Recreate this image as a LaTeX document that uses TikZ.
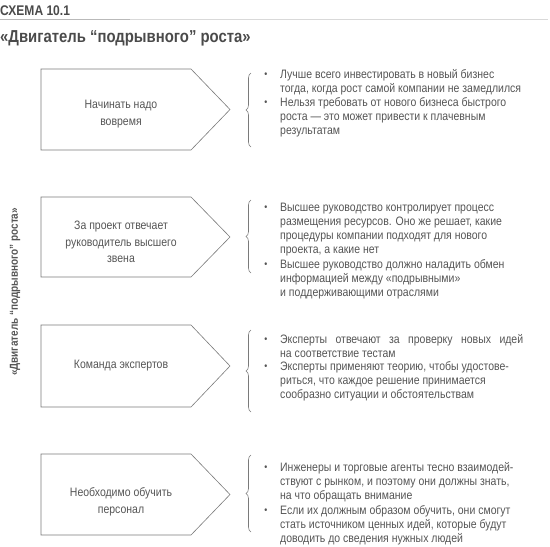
\documentclass[tikz,border=0pt]{standalone}
\usepackage{fontspec}
\setmainfont{Liberation Sans}[FakeStretch=0.86]
\usetikzlibrary{decorations.pathreplacing}
\definecolor{txt}{HTML}{555555}
\definecolor{ttl}{HTML}{4A4A4A}
\definecolor{lin}{HTML}{7A7A7A}
\tikzset{
  pent/.style={draw=lin, line width=0.6pt},
  boxtext/.style={text=txt, align=center, font=\fontsize{12.2}{16.5}\selectfont, inner sep=0pt},
  itemtext/.style={text=txt, anchor=north west, align=left, inner sep=0pt, font=\fontsize{12.2}{14}\selectfont},
  bul/.style={text=txt, inner sep=0pt, font=\fontsize{10}{14}\selectfont},
  brc/.style={draw=lin, line width=0.6pt, decorate, decoration={brace, amplitude=5pt, aspect=0.5}},
}
\newcommand{\mkbox}[5]{% name, top, bottom, text offset, text
  \path[pent] (41,#2) coordinate (#1nw) -- (191,#2) -- (230,{(#2+#3)/2}) coordinate (#1tip) -- (191,#3) -- (41,#3) -- cycle;
  \node[boxtext] (#1t) at (121,{(#2+#3)/2+#4}) {#5};
}
\begin{document}
\begin{tikzpicture}[x=1pt,y=-1pt]
\useasboundingbox (0,0) rectangle (550,547);
% header
\node[anchor=base west, inner sep=0pt, text=ttl, font=\fontsize{14}{16}\selectfont\bfseries] (schema) at (0,15) {СХЕМА 10.1};
\coordinate (l0) at (0,19.5);
\coordinate (l1) at (130,19.5);
\coordinate (l2) at (548,19.5);
\draw[gray!55, line width=1pt] (l0) -- (l1);
\draw[gray!30, line width=1pt] (l1) -- (l2);
\node[anchor=base west, inner sep=0pt, text=ttl, font=\fontsize{17.3}{20}\selectfont\bfseries] (title) at (0,42) {«Двигатель “подрывного” роста»};
% vertical label
\node[rotate=90, inner sep=0pt, text=txt, font=\fontsize{11.6}{13}\selectfont\bfseries] (side) at (15,292) {«Двигатель “подрывного” роста»};
% boxes
\mkbox{a}{69}{150}{4.5}{Начинать надо\\вовремя}
\mkbox{b}{197}{277}{5}{За проект отвечает\\руководитель высшего\\звена}
\mkbox{c}{325}{407}{0}{Команда экспертов}
\mkbox{d}{454}{535}{7.5}{Необходимо обучить\\персонал}
% braces
\coordinate (ab1) at (251,147); \coordinate (ab2) at (251,73);
\coordinate (bb1) at (251,273); \coordinate (bb2) at (251,200);
\coordinate (cb1) at (251,412); \coordinate (cb2) at (251,330);
\coordinate (db1) at (251,532); \coordinate (db2) at (251,455);
\draw[brc] (ab1) -- (ab2);
\draw[brc] (bb1) -- (bb2);
\draw[brc] (cb1) -- (cb2);
\draw[brc] (db1) -- (db2);
% items
\node[bul] (a1b) at (266,75) {•};
\node[itemtext] (a1) at (280,68) {\strut Лучше всего инвестировать в новый бизнес\\тогда, когда рост самой компании не замедлился};
\node[bul] (a2b) at (266,103) {•};
\node[itemtext] (a2) at (280,96) {\strut Нельзя требовать от нового бизнеса быстрого\\роста — это может привести к плачевным\\результатам};
\node[bul] (b1b) at (266,208) {•};
\node[itemtext] (b1) at (280,201) {\strut Высшее руководство контролирует процесс\\размещения ресурсов. Оно же решает, какие\\процедуры компании подходят для нового\\проекта, а какие нет};
\node[bul] (b2b) at (266,265) {•};
\node[itemtext] (b2) at (280,258) {\strut Высшее руководство должно наладить обмен\\информацией между «подрывными»\\и поддерживающими отраслями};
\node[bul] (c1b) at (266,340) {•};
\node[itemtext] (c1) at (280,333) {\strut\makebox[243pt][s]{Эксперты отвечают за проверку новых идей}\\на соответствие тестам};
\node[bul] (c2b) at (266,367) {•};
\node[itemtext] (c2) at (280,360) {\strut Эксперты применяют теорию, чтобы удостове-\\риться, что каждое решение принимается\\сообразно ситуации и обстоятельствам};
\node[bul] (d1b) at (266,468) {•};
\node[itemtext] (d1) at (280,461) {\strut Инженеры и торговые агенты тесно взаимодей-\\ствуют с рынком, и поэтому они должны знать,\\на что обращать внимание};
\node[bul] (d2b) at (266,511) {•};
\node[itemtext] (d2) at (280,504) {\strut Если их должным образом обучить, они смогут\\стать источником ценных идей, которые будут\\доводить до сведения нужных людей};
\end{tikzpicture}
\end{document}
